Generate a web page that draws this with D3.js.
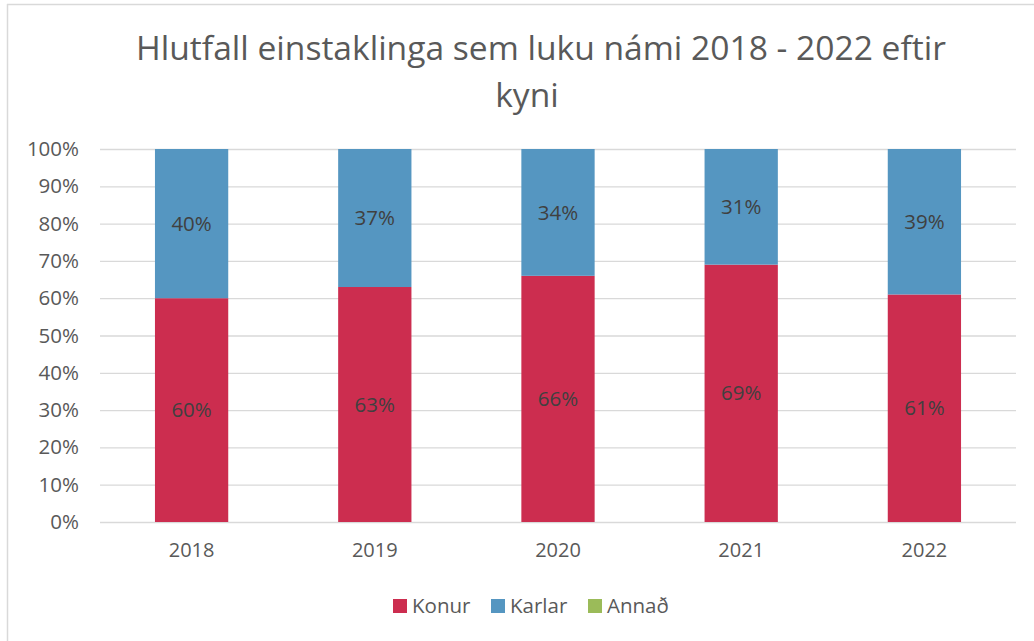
<!DOCTYPE html>
<html>
<head>
<meta charset="utf-8">
<script src="https://cdn.jsdelivr.net/npm/d3@7"></script>
<style>
  html, body { margin: 0; padding: 0; background: #fff; }
  svg { display: block; font-family: "Open Sans", sans-serif; }
</style>
</head>
<body>
<div id="chart"></div>
<script>
const years = ['2018', '2019', '2020', '2021', '2022'];
const konur = [0.60, 0.63, 0.66, 0.69, 0.61];
const karlar = [0.40, 0.37, 0.34, 0.31, 0.39];
const annad = [0, 0, 0, 0, 0];
const seriesNames = ['Konur', 'Karlar', 'Annað'];
const seriesColors = ['#cc2d4f', '#5596c1', '#9bbb59'];
const titleLines = ['Hlutfall einstaklinga sem luku námi 2018 - 2022 eftir', 'kyni'];

const width = 1034;
const height = 641;
const margin = { top: 149, right: 18, bottom: 119, left: 100 };

const rows = years.map((y, i) => ({ year: y, Konur: konur[i], Karlar: karlar[i], 'Annað': annad[i] }));
const stacked = d3.stack().keys(seriesNames)(rows);

const svg = d3.select('#chart').append('svg').attr('width', width).attr('height', height);

// frame lines (the chart box is cropped on right and bottom)
svg.append('line').attr('x1', 7.5).attr('x2', 7.5).attr('y1', 4).attr('y2', height)
  .attr('stroke', '#d9d9d9').attr('stroke-width', 1.5);
svg.append('line').attr('x1', 7).attr('x2', width).attr('y1', 4.5).attr('y2', 4.5)
  .attr('stroke', '#d9d9d9').attr('stroke-width', 1.5);

const x = d3.scaleBand().domain(years).range([margin.left, width - margin.right]).paddingInner(0.6).paddingOuter(0.3);
const y = d3.scaleLinear().domain([0, 1]).range([height - margin.bottom, margin.top]);

svg.append('g')
  .attr('transform', `translate(${margin.left},0)`)
  .call(d3.axisLeft(y).ticks(10).tickFormat(d3.format('.0%')).tickSize(-(width - margin.left - margin.right)).tickPadding(21))
  .call((g) => g.select('.domain').remove())
  .call((g) => g.selectAll('.tick line').attr('stroke', '#d9d9d9').attr('stroke-width', 1.3))
  .call((g) => g.selectAll('.tick text').attr('fill', '#595959').attr('font-size', 20.5).attr('font-family', '"Open Sans", sans-serif'));

svg.append('g')
  .attr('transform', `translate(0,${height - margin.bottom})`)
  .call(d3.axisBottom(x).tickSize(0).tickPadding(21))
  .call((g) => g.select('.domain').remove())
  .call((g) => g.selectAll('.tick text').attr('fill', '#595959').attr('font-size', 20).attr('font-family', '"Open Sans", sans-serif'));

stacked.forEach((s, si) => {
  svg.append('g').selectAll('rect').data(s).join('rect')
    .attr('x', (d) => x(d.data.year))
    .attr('y', (d) => y(d[1]))
    .attr('width', x.bandwidth())
    .attr('height', (d) => y(d[0]) - y(d[1]))
    .attr('fill', seriesColors[si]);
});

stacked.forEach((s) => {
  svg.append('g').selectAll('text').data(s.filter((d) => d[1] - d[0] > 0)).join('text')
    .attr('x', (d) => x(d.data.year) + x.bandwidth() / 2)
    .attr('y', (d) => y((d[0] + d[1]) / 2))
    .attr('dy', '0.35em')
    .attr('text-anchor', 'middle')
    .attr('font-size', 20.5)
    .attr('fill', '#404040')
    .text((d) => d3.format('.0%')(d[1] - d[0]));
});

// second title line sits a little left of the first one in the original
const titleX = [541, 527];
svg.append('g').selectAll('text').data(titleLines).join('text')
  .attr('x', (d, i) => titleX[i])
  .attr('y', (d, i) => 60 + i * 47)
  .attr('text-anchor', 'middle')
  .attr('font-size', 33.6)
  .attr('fill', '#595959')
  .text((d) => d);

const legendX = [393, 491, 588];
const legend = svg.append('g').selectAll('g').data(seriesNames).join('g')
  .attr('transform', (d, i) => `translate(${legendX[i]},599)`);
legend.append('rect').attr('width', 14).attr('height', 14).attr('fill', (d, i) => seriesColors[i]);
legend.append('text').attr('x', 19).attr('y', 7).attr('dy', '0.35em')
  .attr('font-size', 20.5).attr('fill', '#595959').text((d) => d);
</script>
</body>
</html>
